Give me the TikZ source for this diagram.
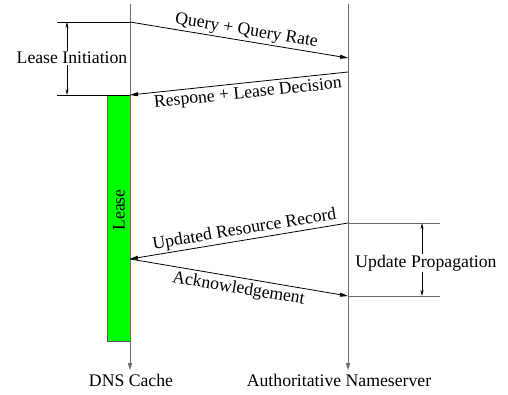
\documentclass[tikz,border=0pt]{standalone}
\usepackage{fontspec}
\setmainfont{Liberation Serif}
\usetikzlibrary{arrows.meta}
\begin{document}
\begin{tikzpicture}[x=1pt, y=-1pt, font=\fontsize{17.7}{20}\selectfont,
    life/.style={draw=gray!85!black, line width=1pt, -{Triangle[length=7pt,width=4pt]}},
    msg/.style={line width=0.8pt, -{Triangle[length=8pt,width=4pt]}},
    span/.style={line width=0.6pt, {Stealth[length=6pt,width=3pt]}-{Stealth[length=6pt,width=3pt]}},
    mark line/.style={line width=0.8pt},
    tag/.style={inner sep=1pt}]
    \useasboundingbox (0,0) rectangle (508,394);

    % Lebenslinien
    \node (cache) at (131,380) {DNS Cache};
    \node (server) at (339,380) {Authoritative Nameserver};
    \coordinate (c top) at (130,4);
    \coordinate (s top) at (348,4);

    % Lease-Balken
    \draw [fill=green, draw=gray!70!black, line width=0.7pt] (107,95) rectangle (130,341);
    \node [rotate=90] (lease) at (119,210) {Lease};

    \draw [life] (c top) -- (c top |- cache.north);
    \draw [life] (s top) -- (s top |- server.north);

    % Nachrichten
    \coordinate (q1) at (130,22);
    \coordinate (q2) at (348,58);
    \coordinate (r1) at (348,72);
    \coordinate (r2) at (130,95);
    \coordinate (u1) at (348,223);
    \coordinate (u2) at (130,259);
    \coordinate (a2) at (348,296);

    \draw [msg] (q1) -- (q2);
    \node [tag, rotate=-9.4, anchor=south] (query) at (245,40) {Query + Query Rate};
    \draw [msg] (r1) -- (r2);
    \node [tag, rotate=6, anchor=north] (resp) at (247,85) {Respone + Lease Decision};
    \draw [msg] (u1) -- (u2);
    \node [tag, rotate=9.4, anchor=south] (update) at (246,239) {Updated Resource Record};
    \draw [msg] (u2) -- (a2);
    \node [tag, rotate=-9.4, anchor=north] (ack) at (240,280) {Acknowledgement};

    % Lease Initiation
    \coordinate (li1) at (57,22);
    \coordinate (li2) at (57,95);
    \draw [mark line] (li1) -- (q1);
    \draw [mark line] (li2) -- (r2);
    \draw [span] (67,22) -- (67,95);
    \node [fill=white, inner sep=1pt] (init) at (72,58) {Lease Initiation};

    % Update Propagation
    \coordinate (up1) at (440,223);
    \coordinate (up2) at (440,296);
    \draw [mark line, draw=gray!85!black] (u1) -- (up1);
    \draw [mark line, draw=gray!85!black] (a2) -- (up2);
    \draw [span] (422,223) -- (422,296);
    \node [fill=white, inner sep=1pt] (prop) at (426,263) {Update Propagation};
\end{tikzpicture}
\end{document}
